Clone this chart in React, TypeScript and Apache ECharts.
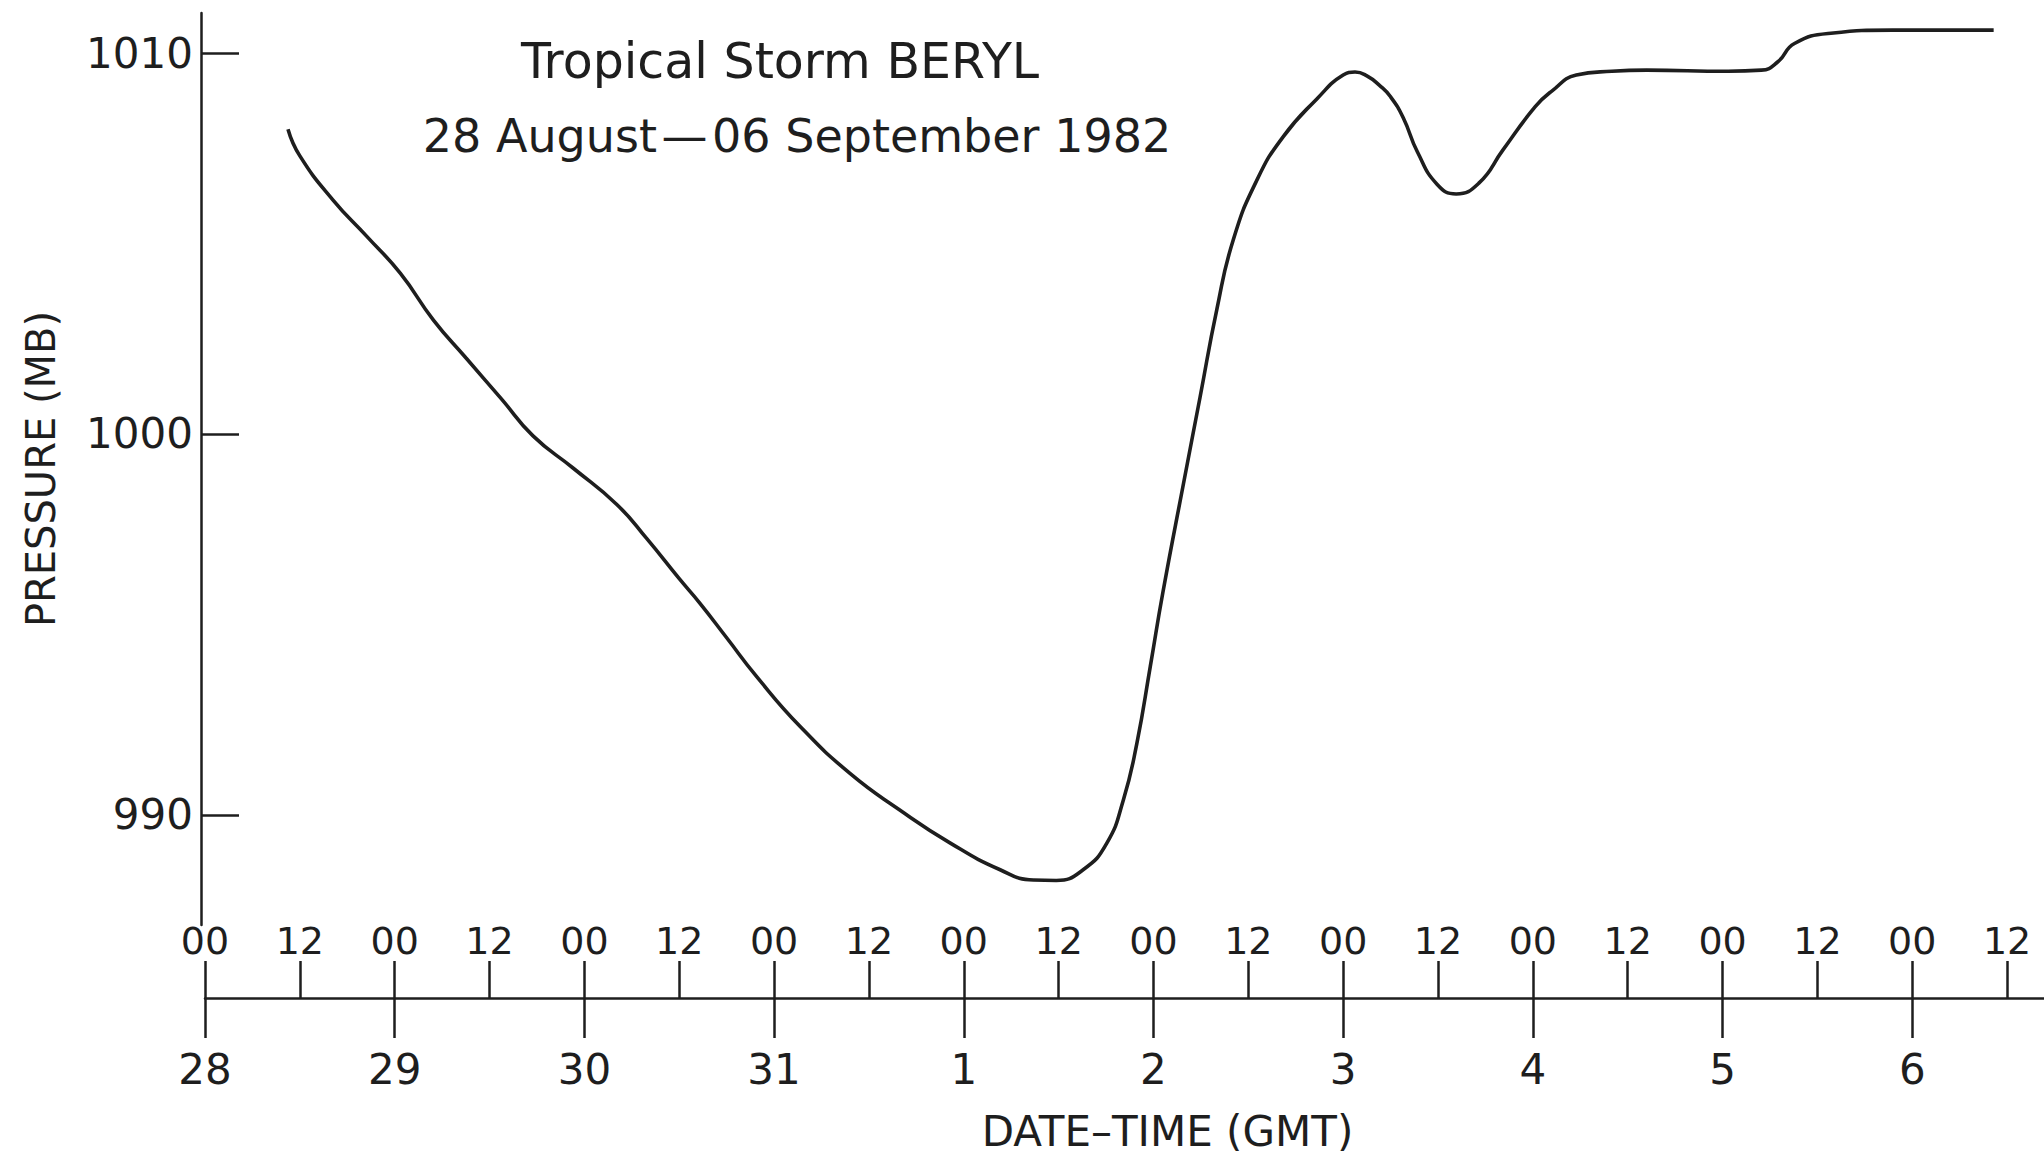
import React, { useEffect, useRef } from "react";
import * as echarts from "echarts";

// hours after 28 August 00 GMT
const hours = [
  10.5, 12, 16.2, 20.5, 24.7, 28.9, 33, 37.5, 41.5, 46.6, 52.1, 55.9, 60, 62.6, 66.0,
  69.8, 75.3, 81.6, 87.9, 94.3, 100.6, 104.8, 107.7, 111.1, 114.1, 116.2, 117.9, 119.6,
  121.2, 123.8, 125.9, 128.0, 130.1, 133.1, 136.4, 140.7, 144, 145.5, 147, 148.6, 150,
  151.6, 153.4, 155.9, 158.3, 161.2, 164.2, 168.3, 170.4, 173.5, 178, 182.4, 192.7,
  196.9, 199.0, 201.1, 205.7, 213.5, 226.3,
];
const pressure = [
  1008.0, 1007.3, 1006.14, 1005.18, 1004.22, 1002.99, 1002.0, 1000.92, 999.95, 999.1,
  998.15, 997.25, 996.2, 995.56, 994.65, 993.63, 992.32, 991.09, 990.13, 989.26, 988.56,
  988.29, 988.28, 988.56, 989.26, 990.4, 991.88, 993.9, 995.85, 998.7, 1000.97,
  1003.25, 1005.1, 1006.67, 1007.8, 1008.8, 1009.42, 1009.5, 1009.4, 1009.15, 1008.85,
  1008.3, 1007.4, 1006.55, 1006.3, 1006.59, 1007.45, 1008.59, 1009.0, 1009.42,
  1009.52, 1009.55, 1009.52, 1009.55, 1009.77, 1010.25, 1010.52, 1010.6, 1010.6,
];
const dayTicks = [0, 24, 48, 72, 96, 120, 144, 168, 192, 216];
const dayLabels = ["28", "29", "30", "31", "1", "2", "3", "4", "5", "6"];
const halfDayTicks = [0, 12, 24, 36, 48, 60, 72, 84, 96, 108, 120, 132, 144, 156, 168, 180, 192, 204, 216, 228];
const pressureTicks = [990, 1000, 1010];
const titleLine1 = "Tropical Storm BERYL";
const titleLine2 = "28 August\u200A\u2014\u200A06 September 1982";
const xName = "DATE\u2013TIME (GMT)";
const yName = "PRESSURE (MB)";

const INK = "#1e1e1e";
const FONT = "DejaVu Sans";

export default function App() {
  const ref = useRef<HTMLDivElement>(null);
  useEffect(() => {
    if (!ref.current) return;
    const chart = echarts.init(ref.current, null, { renderer: "svg" });
    const data = hours.map((h, i) => [h, pressure[i]]);
    chart.setOption({
      animation: false,
      backgroundColor: "#ffffff",
      grid: [
        { left: 201, top: 13, right: 0, bottom: 232 },
        { left: 205, top: 13, right: 0, bottom: 232 },
      ],
      xAxis: [
        { gridIndex: 0, type: "value", min: -0.506, max: 232.67, show: false },
        {
          gridIndex: 1,
          type: "value",
          min: 0,
          max: 232.67,
          position: "bottom",
          offset: 75,
          axisLine: { show: true, onZero: false, lineStyle: { color: INK, width: 2.5 } },
          axisTick: { show: true, customValues: dayTicks, length: 40, lineStyle: { color: INK, width: 2.5 } },
          axisLabel: {
            show: true,
            customValues: dayTicks,
            formatter: (v: number) => dayLabels[dayTicks.indexOf(Math.round(v))] ?? "",
            margin: 50,
            fontSize: 42,
            fontFamily: FONT,
            color: INK,
          },
          splitLine: { show: false },
          name: xName,
          nameLocation: "middle",
          nameGap: 112,
          nameTextStyle: { fontSize: 42, fontFamily: FONT, color: INK, padding: [0, 0, 0, 86] },
        },
        {
          gridIndex: 1,
          type: "value",
          min: 0,
          max: 232.67,
          position: "bottom",
          offset: 75,
          axisLine: { show: false, onZero: false },
          axisTick: { show: true, inside: true, customValues: halfDayTicks, length: 37, lineStyle: { color: INK, width: 2.5 } },
          axisLabel: {
            show: true,
            inside: true,
            customValues: halfDayTicks,
            formatter: (v: number) => (Math.round(v) % 24 === 0 ? "00" : "12"),
            margin: 38,
            fontSize: 38,
            fontFamily: FONT,
            color: INK,
          },
          splitLine: { show: false },
        },
      ],
      yAxis: [
        {
          gridIndex: 0,
          type: "value",
          min: 987.11,
          max: 1011.05,
          axisLine: { show: true, onZero: false, lineStyle: { color: INK, width: 2.5 } },
          axisTick: { show: true, inside: true, customValues: pressureTicks, length: 38, lineStyle: { color: INK, width: 2.5 } },
          axisLabel: {
            show: true,
            customValues: pressureTicks,
            formatter: (v: number) => String(Math.round(v)),
            margin: 8,
            fontSize: 42,
            fontFamily: FONT,
            color: INK,
          },
          splitLine: { show: false },
          name: yName,
          nameLocation: "middle",
          nameRotate: 90,
          nameGap: 140,
          nameTextStyle: { fontSize: 40, fontFamily: FONT, color: INK },
        },
        { gridIndex: 1, type: "value", min: 0, max: 1, show: false },
      ],
      graphic: [
        {
          type: "text",
          x: 780,
          y: 61,
          style: { text: titleLine1, fill: INK, font: `49px "${FONT}"`, textAlign: "center", textVerticalAlign: "middle" },
        },
        {
          type: "text",
          x: 797,
          y: 136,
          style: { text: titleLine2, fill: INK, font: `46px "${FONT}"`, textAlign: "center", textVerticalAlign: "middle" },
        },
      ],
      series: [
        {
          type: "line",
          xAxisIndex: 0,
          yAxisIndex: 0,
          data,
          smooth: 0.5,
          showSymbol: false,
          symbol: "none",
          lineStyle: { color: INK, width: 3.6 },
        },
      ],
    });
    return () => chart.dispose();
  }, []);
  return (
    <div
      ref={ref}
      style={{ position: "absolute", left: 0, top: 0, width: 2044, height: 1157, background: "#fff" }}
    />
  );
}
